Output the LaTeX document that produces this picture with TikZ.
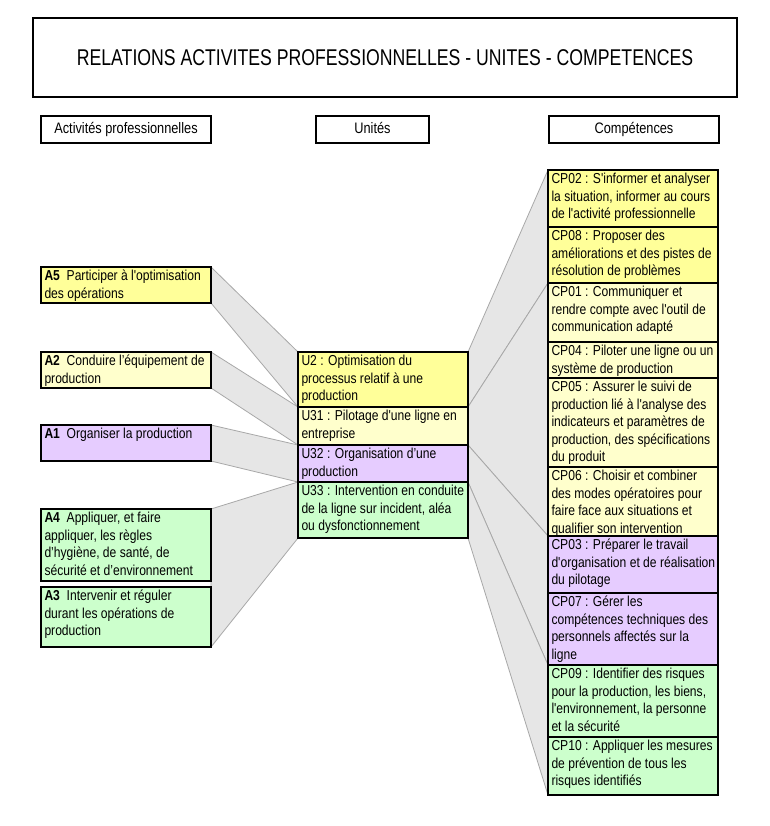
\documentclass[tikz,border=0pt]{standalone}
\usepackage{fontspec}
\setmainfont{Liberation Sans}
\newfontfamily\bodyfont[FakeStretch=0.84,Ligatures=TeXOff]{Liberation Sans}
\newfontfamily\titlefont[FakeStretch=0.775,Ligatures=TeXOff]{Liberation Sans}
\usetikzlibrary{calc}
\pgfdeclarelayer{back}
\pgfdeclarelayer{bg}
\pgfsetlayers{back,bg,main}
\definecolor{yel}{HTML}{FFFF99}
\definecolor{pyel}{HTML}{FFFFCC}
\definecolor{lav}{HTML}{E6CCFF}
\definecolor{grn}{HTML}{CCFFCC}
\definecolor{bandfill}{HTML}{E6E6E6}
\definecolor{bandline}{HTML}{A8A8A8}
\tikzset{
  box/.style={draw=black, line width=0.9pt, inner sep=0pt, outer sep=0pt,
    anchor=north west, minimum width=127.5pt},
  txt/.style={anchor=north west, inner sep=0pt, outer sep=0pt, align=left,
    font=\bodyfont\fontsize{10.8}{13.125}\selectfont},
  headbox/.style={draw=black, line width=0.9pt, inner sep=0pt, outer sep=0pt,
    minimum height=20.25pt, text height=8pt, text depth=2.5pt,
    font=\bodyfont\fontsize{11.4}{13}\selectfont},
  titlebox/.style={draw=black, line width=1.4pt, inner sep=0pt, outer sep=0pt,
    minimum width=528pt, minimum height=59.25pt, text height=12.25pt, text depth=0pt,
    font=\titlefont\fontsize{17.1}{20}\selectfont},
  band/.style={fill=bandfill, draw=bandline, line width=0.6pt, line join=round},
}
\newcommand\mkbox[6]{%
  \node[box, fill=#5, minimum height=#4*0.75pt] (#1) at (#2,#3) {};
  \node[txt] (#1t) at ($(#1.north west)+(3.5,1.3)$) {\strut #6};}
\begin{document}
\begin{tikzpicture}[x=0.75pt,y=-0.75pt]
\useasboundingbox (0,0) rectangle (769,826);
\begin{pgfonlayer}{back}
\fill[white] (0,0) rectangle (769,826);
\end{pgfonlayer}

% title
\node[titlebox] (title) at (385,57.5) {RELATIONS ACTIVITES PROFESSIONNELLES - UNITES - COMPETENCES};

% column headers
\node[headbox, minimum width=127.5pt] (hA) at (126,129.5) {Activités professionnelles};
\node[headbox, minimum width=84.75pt] (hU) at (372.5,129.5) {Unités};
\node[headbox, minimum width=127.5pt] (hC) at (634,129.5) {Compétences};

% activities
\mkbox{a5}{41}{267}{36}{yel}{\textbf{A5}\ \ Participer à l'optimisation\\des opérations}
\mkbox{a2}{41}{352}{36}{pyel}{\textbf{A2}\ \ Conduire l’équipement de\\production}
\mkbox{a1}{41}{425}{36}{lav}{\textbf{A1}\ \ Organiser la production}
\mkbox{a4}{41}{509}{72}{grn}{\textbf{A4}\ \ Appliquer, et faire\\appliquer, les règles\\d’hygiène, de santé, de\\sécurité et d’environnement}
\mkbox{a3}{41}{587}{60}{grn}{\textbf{A3}\ \ Intervenir et réguler\\durant les opérations de\\production}

% units
\mkbox{u2}{298}{352}{55}{yel}{U2 : Optimisation du\\processus relatif à une\\production}
\mkbox{u31}{298}{407}{38}{pyel}{U31 : Pilotage d'une ligne en\\entreprise}
\mkbox{u32}{298}{445}{37}{lav}{U32 : Organisation d’une\\production}
\mkbox{u33}{298}{482}{56}{grn}{U33 : Intervention en conduite\\de la ligne sur incident, aléa\\ou dysfonctionnement}

% competences
\mkbox{cp02}{548}{170}{57}{yel}{CP02 : S'informer et analyser\\la situation, informer au cours\\de l'activité professionnelle}
\mkbox{cp08}{548}{227}{56}{yel}{CP08 : Proposer des\\améliorations et des pistes de\\résolution de problèmes}
\mkbox{cp01}{548}{283}{59}{pyel}{CP01 : Communiquer et\\rendre compte avec l'outil de\\communication adapté}
\mkbox{cp04}{548}{342}{36}{pyel}{CP04 : Piloter une ligne ou un\\système de production}
\mkbox{cp05}{548}{378}{89}{pyel}{CP05 : Assurer le suivi de\\production lié à l'analyse des\\indicateurs et paramètres de\\production, des spécifications\\du produit}
\mkbox{cp06}{548}{467}{69}{pyel}{CP06 : Choisir et combiner\\des modes opératoires pour\\faire face aux situations et\\qualifier son intervention}
\mkbox{cp03}{548}{536}{57}{lav}{CP03 : Préparer le travail\\d'organisation et de réalisation\\du pilotage}
\mkbox{cp07}{548}{593}{72}{lav}{CP07 : Gérer les\\compétences techniques des\\personnels affectés sur la\\ligne}
\mkbox{cp09}{548}{665}{72}{grn}{CP09 : Identifier des risques\\pour la production, les biens,\\l'environnement, la personne\\et la sécurité}
\mkbox{cp10}{548}{737}{58}{grn}{CP10 : Appliquer les mesures\\de prévention de tous les\\risques identifiés}

% bands
\begin{pgfonlayer}{bg}
\draw[band] (a5.north east) -- (u2.north west) -- (u2.south west) -- (a5.south east) -- cycle;
\draw[band] (a2.north east) -- (u31.north west) -- (u31.south west) -- (a2.south east) -- cycle;
\draw[band] (a1.north east) -- (u32.north west) -- (u32.south west) -- (a1.south east) -- cycle;
\draw[band] (a4.north east) -- (u33.north west) -- (u33.south west) -- (a3.south east) -- cycle;
\draw[band] (u2.north east) -- (cp02.north west) -- (cp08.south west) -- (u2.south east) -- cycle;
\draw[band] (u31.north east) -- (cp01.north west) -- (cp06.south west) -- (u31.south east) -- cycle;
\draw[band] (u32.north east) -- (cp03.north west) -- (cp07.south west) -- (u32.south east) -- cycle;
\draw[band] (u33.north east) -- (cp09.north west) -- (cp10.south west) -- (u33.south east) -- cycle;
\end{pgfonlayer}
\end{tikzpicture}
\end{document}
